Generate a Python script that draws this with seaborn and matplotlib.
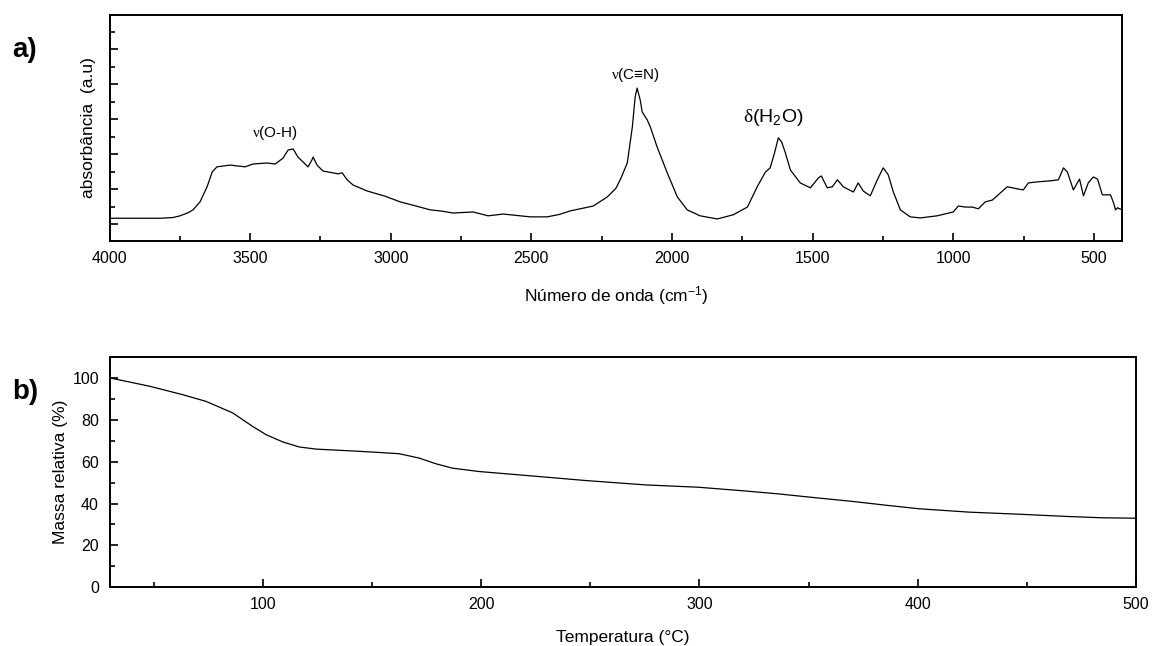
import numpy as np
import pandas as pd
import matplotlib
matplotlib.use("Agg")
import matplotlib.pyplot as plt
from matplotlib.ticker import MultipleLocator
import seaborn as sns

# ---------------- data ----------------
# a) FTIR spectrum
wavenumber = [4000, 3820, 3775, 3749, 3720, 3703, 3678, 3653, 3635, 3618, 3571, 3518, 3490, 3440, 3411,
              3383, 3365, 3347, 3330, 3294, 3280, 3276, 3262, 3241, 3187, 3173, 3155, 3134,
              3084, 3020, 2967, 2910, 2860, 2824, 2778, 2707, 2654, 2600, 2504, 2444, 2400, 2362, 2280, 2230,
              2200, 2184, 2159, 2141, 2131, 2124, 2113, 2106, 2088, 2077, 2053, 2017, 1981, 1946,
              1900, 1839, 1782, 1732, 1697, 1668, 1651, 1635, 1622, 1610, 1597, 1579, 1544, 1508, 1480,
              1469, 1448, 1430, 1412, 1391, 1355, 1338, 1320, 1295, 1270, 1249, 1231, 1213,
              1188, 1153, 1117, 1057, 1000, 982, 957, 932, 911, 886, 861, 808, 772, 751, 733,
              701, 655, 626, 608, 594, 573, 551, 537, 520, 502, 487, 470, 441, 430, 423, 416, 400]
absorbance = [0.17, 0.17, 0.19, 0.24, 0.33, 0.41, 0.64, 1.07, 1.49, 1.64, 1.69, 1.64, 1.72, 1.75, 1.72,
              1.89, 2.12, 2.15, 1.92, 1.64, 1.84, 1.92, 1.69, 1.52, 1.44, 1.47, 1.27, 1.12,
              0.95, 0.80, 0.64, 0.52, 0.41, 0.38, 0.32, 0.35, 0.24, 0.29, 0.21, 0.21, 0.28, 0.38, 0.52, 0.78,
              1.02, 1.27, 1.75, 2.78, 3.64, 3.89, 3.55, 3.21, 2.98, 2.78, 2.21, 1.47, 0.78, 0.41,
              0.24, 0.15, 0.27, 0.49, 1.07, 1.49, 1.61, 2.05, 2.47, 2.35, 2.04, 1.55, 1.18, 1.04, 1.32,
              1.38, 1.04, 1.07, 1.27, 1.07, 0.92, 1.18, 0.95, 0.81, 1.27, 1.61, 1.41, 0.92,
              0.41, 0.21, 0.18, 0.24, 0.35, 0.52, 0.49, 0.49, 0.44, 0.64, 0.69, 1.07, 1.01, 0.98, 1.18,
              1.21, 1.24, 1.27, 1.61, 1.49, 0.98, 1.29, 0.81, 1.18, 1.35, 1.29, 0.84, 0.84, 0.61, 0.41, 0.47, 0.41]

# b) TGA curve
temperature = [30, 48.3, 63.3, 74, 86.2, 95.4, 101.5, 109.2, 116.8, 124.5, 139.8, 153.4, 162.5,
               171.7, 179.3, 186.9, 199.1, 222, 247.9, 275.4, 299.5, 321.1, 336.4, 347.4, 370.3,
               385.5, 400.7, 423.6, 446.5, 469.4, 484.6, 500]
mass = [100.0, 96.0, 92.0, 88.8, 83.3, 76.8, 72.9, 69.4, 67.0, 66.0, 65.2, 64.4, 63.8,
        61.7, 59.0, 56.9, 55.3, 53.3, 51.0, 48.9, 47.8, 46.0, 44.6, 43.4, 41.0,
        39.2, 37.5, 35.9, 34.9, 33.8, 33.2, 33.0]

ir_df = pd.DataFrame({"wn": wavenumber, "abs": absorbance})
tga_df = pd.DataFrame({"T": temperature, "m": mass})

# ---------------- style ----------------
sns.set_style("ticks")
plt.rcParams["font.family"] = ["Liberation Sans", "DejaVu Sans"]
plt.rcParams["mathtext.fontset"] = "custom"
plt.rcParams["mathtext.rm"] = "Liberation Sans"
plt.rcParams["mathtext.it"] = "Liberation Sans:italic"
plt.rcParams["mathtext.sf"] = "Liberation Serif"
plt.rcParams["mathtext.default"] = "regular"
for k in ["text.color", "axes.labelcolor", "xtick.color", "ytick.color", "axes.edgecolor"]:
    plt.rcParams[k] = "black"

W, H = 1154, 646
fig = plt.figure(figsize=(W / 100, H / 100), dpi=100)

ax1 = fig.add_axes([109.5 / W, 1 - 241 / H, (1122 - 109.5) / W, (241 - 15) / H])
ax2 = fig.add_axes([110 / W, 1 - 587.3 / H, (1136 - 110) / W, (587.3 - 357) / H])

line_kw = dict(color="black", linewidth=0.9)
sns.lineplot(data=ir_df, x="wn", y="abs", ax=ax1, sort=False, estimator=None, **line_kw)
sns.lineplot(data=tga_df, x="T", y="m", ax=ax2, sort=False, estimator=None, **line_kw)

for ax in (ax1, ax2):
    for s in ax.spines.values():
        s.set_linewidth(1.4)
        s.set_color("black")
    ax.tick_params(which="both", direction="in", width=1.2, colors="black",
                   labelsize=11.5, top=False, right=False)
    ax.tick_params(which="major", length=6)
    ax.tick_params(which="minor", length=3.5)

# top panel
ax1.set_xlim(4000, 400)
ax1.set_ylim(-0.48, 5.98)
ax1.xaxis.set_major_locator(MultipleLocator(500))
ax1.xaxis.set_minor_locator(MultipleLocator(250))
ax1.yaxis.set_major_locator(MultipleLocator(1))
ax1.yaxis.set_minor_locator(MultipleLocator(0.5))
ax1.set_yticklabels([])
ax1.set_xlabel("Número de onda (cm$^{-1}$)", fontsize=12.5, labelpad=13)
ax1.set_ylabel("absorbância  (a.u)", fontsize=12.5, labelpad=6)
ax1.tick_params(axis="x", pad=7)

ax1.text(3411, 2.61, r"$\mathsf{\nu}$(O-H)", ha="center", va="center", fontsize=11)
ax1.text(2131, 4.27, r"$\mathsf{\nu}$(C≡N)", ha="center", va="center", fontsize=11)
ax1.text(1640, 3.04, r"$\mathsf{\delta}$(H$_2$O)", ha="center", va="center", fontsize=14)

# bottom panel
ax2.set_xlim(30, 500)
ax2.set_ylim(0, 110)
ax2.xaxis.set_major_locator(MultipleLocator(100))
ax2.xaxis.set_minor_locator(MultipleLocator(50))
ax2.yaxis.set_major_locator(MultipleLocator(20))
ax2.yaxis.set_minor_locator(MultipleLocator(10))
ax2.set_xlabel("Temperatura (°C)", fontsize=12.5, labelpad=13)
ax2.set_ylabel("Massa relativa (%)", fontsize=12.5, labelpad=3)
ax2.tick_params(axis="x", pad=7)
ax2.tick_params(axis="y", pad=8)

fig.text(25 / W, 1 - 50 / H, "a)", fontsize=20, fontweight="bold", ha="center", va="center")
fig.text(25 / W, 1 - 392 / H, "b)", fontsize=20, fontweight="bold", ha="center", va="center")

fig.savefig("out.png", dpi=100)
